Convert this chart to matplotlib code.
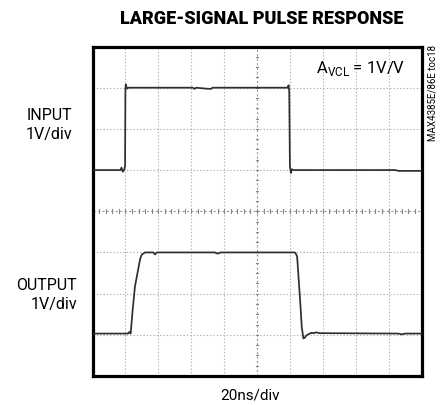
import matplotlib
matplotlib.use("Agg")
import matplotlib.pyplot as plt
import numpy as np

# Trace data in scope divisions (x: 0..10 time divisions, y: 0..8 vertical divisions)
input_t = [0.0, 0.85, 0.88, 0.92, 0.96, 0.99, 1.0, 1.01, 1.05, 1.1, 3.05, 3.1, 3.15,
           3.4, 3.6, 3.65, 5.93, 5.96, 5.98, 6.0, 6.03, 6.06, 6.1, 9.2, 9.3, 10.0]
input_v = [5.0, 5.0, 5.06, 4.96, 5.0, 5.1, 6.9, 7.08, 6.98, 7.0, 7.0, 6.97, 7.0,
           6.98, 6.97, 7.0, 7.0, 7.06, 6.9, 5.1, 4.93, 5.02, 5.0, 5.0, 4.98, 4.98]

output_t = [0.0, 1.08, 1.12, 1.16, 1.22, 1.29, 1.45, 1.5, 1.6, 1.7, 1.85, 1.9, 1.95,
            2.0, 3.72, 3.8, 3.9, 4.18, 6.15, 6.18, 6.22, 6.31, 6.36, 6.41, 6.45,
            6.51, 6.6, 6.66, 6.72, 6.8, 6.9, 9.3, 9.4, 9.5, 10.0]
output_v = [1.03, 1.03, 1.07, 1.03, 1.6, 2.17, 2.85, 2.95, 3.0, 3.0, 3.0, 2.95, 3.0,
            3.0, 3.0, 2.97, 3.0, 3.0, 3.0, 2.97, 2.9, 1.84, 1.2, 0.91, 0.93,
            0.99, 1.03, 1.05, 1.04, 1.06, 1.04, 1.03, 1.01, 1.03, 1.03]

title = "LARGE-SIGNAL PULSE RESPONSE"
xlabel = "20ns/div"
ch1_label = ["INPUT", "1V/div"]
ch2_label = ["OUTPUT", "1V/div"]
gain_label = r"A$_{\mathregular{VCL}}$ = 1V/V"
toc_label = "MAX4385E/86E toc18"

FONT = ["Roboto", "DejaVu Sans"]
plt.rcParams["font.family"] = FONT
plt.rcParams["mathtext.fontset"] = "custom"
plt.rcParams["mathtext.rm"] = "Roboto"

W, H = 440, 405
fig = plt.figure(figsize=(W / 100, H / 100), dpi=100)
left, right, top, bottom = 92.5, 421.5, 46.5, 376
ax = fig.add_axes([left / W, 1 - bottom / H, (right - left) / W, (bottom - top) / H])
ax.set_xlim(0, 10)
ax.set_ylim(0, 8)
ax.set_xticks([])
ax.set_yticks([])
for s in ax.spines.values():
    s.set_linewidth(2.3)
    s.set_color("black")

grid_kw = dict(color="#b0b0b0", linewidth=0.8, linestyle=(0, (1.2, 1.8)), zorder=1)
for gx in range(1, 10):
    if gx != 5:
        ax.axvline(gx, **grid_kw)
for gy in range(1, 8):
    if gy != 4:
        ax.axhline(gy, **grid_kw)
center_kw = dict(color="#999999", linewidth=0.8, linestyle=(0, (2, 2)), zorder=1)
ax.axvline(5, **center_kw)
ax.axhline(4, **center_kw)
# minor ticks on center axes
for tx in np.arange(0.2, 10, 0.2):
    ax.plot([tx, tx], [3.95, 4.05], color="#888888", lw=0.8, zorder=1)
for ty in np.arange(0.25, 8, 0.25):
    ax.plot([4.96, 5.04], [ty, ty], color="#888888", lw=0.8, zorder=1)

ax.plot(input_t, input_v, color="#2e2e2e", lw=1.25, zorder=3)
ax.plot(output_t, output_v, color="#2e2e2e", lw=1.25, zorder=3)

def fx(px):
    return px / W

def fy(py):
    return 1 - py / H

fig.text(fx(262), fy(18.5), title, ha="center", va="center", fontsize=13,
         fontweight="black")
fig.text(fx(250), fy(396), xlabel, ha="center", va="center", fontsize=11)
fig.text(fx(72), fy(115.5), ch1_label[0], ha="right", va="center", fontsize=11.5)
fig.text(fx(72), fy(135), ch1_label[1], ha="right", va="center", fontsize=11.5)
fig.text(fx(77), fy(285), ch2_label[0], ha="right", va="center", fontsize=11.5)
fig.text(fx(77), fy(305), ch2_label[1], ha="right", va="center", fontsize=11.5)
fig.text(fx(405), fy(68), gain_label, ha="right", va="center", fontsize=12)
fig.text(fx(432), fy(45), toc_label, ha="center", va="top", rotation=90, fontsize=7)

fig.savefig("out.png", dpi=100)
